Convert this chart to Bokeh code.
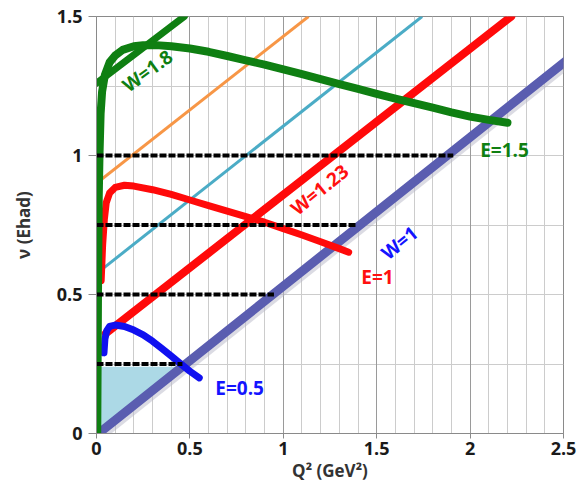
from bokeh.plotting import figure
from bokeh.models import Range1d, FixedTicker, Grid, ColumnDataSource
from bokeh.core.properties import value
from bokeh.embed import file_html
from bokeh.resources import INLINE

# ---- data ----
x_ticks = [0, 0.5, 1, 1.5, 2, 2.5]
x_tick_labels = ["0", "0.5", "1", "1.5", "2", "2.5"]
y_ticks = [0, 0.5, 1, 1.5]
y_tick_labels = ["0", "0.5", "1", "1.5"]

# shaded triangle (accessible region at low energy)
shade_q2 = [0.0, 0.0, 0.44]
shade_nu = [0.0, 0.24, 0.24]

# straight lines of constant W
w1_q2 = [0.01, 2.55]
w1_nu = [0.0, 1.36]
w123_q2 = [0.05, 2.22]
w123_nu = [0.36, 1.5]
w18_q2 = [0.0, 0.47]
w18_nu = [1.26, 1.5]
orange_q2 = [0.0, 1.135]
orange_nu = [0.9, 1.5]
cyan_q2 = [0.0, 1.743]
cyan_nu = [0.575, 1.5]

# curves of constant beam energy
e15_q2 = [0.004, 0.008, 0.012, 0.016, 0.022, 0.03, 0.045, 0.07, 0.1, 0.14, 0.2, 0.25, 0.32, 0.4,
          0.5, 0.6, 0.7, 0.8, 0.9, 1.0, 1.1, 1.2, 1.3, 1.4, 1.5, 1.6, 1.7, 1.8, 1.9, 2.0, 2.1, 2.2]
e15_nu = [0.0, 0.5, 0.85, 1.0, 1.15, 1.23, 1.29, 1.335, 1.36, 1.38, 1.393, 1.397, 1.397, 1.393,
          1.385, 1.373, 1.358, 1.342, 1.327, 1.31, 1.293, 1.275, 1.257, 1.24, 1.222, 1.205,
          1.188, 1.172, 1.155, 1.14, 1.128, 1.118]
e1_q2 = [0.025, 0.033, 0.042, 0.052, 0.07, 0.1, 0.15, 0.2, 0.3, 0.4, 0.5, 0.6, 0.7, 0.8, 0.9,
         1.0, 1.1, 1.2, 1.3, 1.35]
e1_nu = [0.55, 0.68, 0.77, 0.83, 0.865, 0.885, 0.893, 0.89, 0.877, 0.86, 0.84, 0.82, 0.8,
         0.78, 0.76, 0.737, 0.714, 0.69, 0.665, 0.652]
e05_q2 = [0.04, 0.045, 0.055, 0.07, 0.1, 0.15, 0.2, 0.25, 0.3, 0.35, 0.4, 0.45, 0.5, 0.55]
e05_nu = [0.29, 0.34, 0.37, 0.385, 0.39, 0.385, 0.372, 0.355, 0.332, 0.306, 0.279, 0.251,
          0.224, 0.2]

# dashed lines of constant nu
dash_nu = [0.25, 0.5, 0.75, 1.0]
dash_q2_end = [0.46, 0.95, 1.39, 1.91]

# labels
lab_text = ["W=1.8", "W=1.23", "W=1", "E=1.5", "E=1", "E=0.5"]
lab_q2 = [0.273, 1.194, 1.622, 2.184, 1.504, 0.766]
lab_nu = [1.305, 0.877, 0.686, 1.018, 0.564, 0.165]
lab_angle = [0.63, 0.68, 0.68, 0.0, 0.0, 0.0]
lab_color = ["#0f7f12", "#ff1010", "#1414ff", "#0f7f12", "#ff1010", "#1414ff"]

SLATE = "#5a5db0"
RED = "#ff0a0a"
GREEN = "#0f7f12"
BLUE = "#1010f0"

p = figure(width=584, height=499, output_backend="svg", toolbar_location=None,
           x_range=Range1d(0, 2.5), y_range=Range1d(0, 1.5),
           min_border_left=96, min_border_right=21, min_border_top=16, min_border_bottom=66)
p.background_fill_color = "white"
p.border_fill_color = "white"
p.outline_line_color = "#8a8a8a"
p.outline_line_width = 1

# grids
p.xgrid.ticker = FixedTicker(ticks=[i / 10 for i in range(26)])
p.xgrid.grid_line_color = "#cccccc"
p.xgrid.grid_line_width = 1
p.ygrid.ticker = FixedTicker(ticks=[i * 0.25 for i in range(7)])
p.ygrid.grid_line_color = "#cccccc"
p.ygrid.grid_line_width = 1
major_grid = Grid(dimension=0, ticker=FixedTicker(ticks=x_ticks), grid_line_color="#9a9a9a",
                  grid_line_width=1)
p.add_layout(major_grid)

# axes
for ax, ticks, labs in ((p.xaxis[0], x_ticks, x_tick_labels), (p.yaxis[0], y_ticks, y_tick_labels)):
    ax.ticker = FixedTicker(ticks=ticks)
    ax.major_label_overrides = {t: l for t, l in zip(ticks, labs)}
    ax.minor_tick_line_color = None
    ax.axis_line_color = "#8a8a8a"
    ax.major_tick_line_color = "#8a8a8a"
    ax.major_tick_in = 0
    ax.major_label_text_font = "Open Sans"
    ax.major_label_text_font_style = "bold"
    ax.major_label_text_font_size = "18px"
    ax.major_label_text_color = "#1a1a1a"
    ax.axis_label_text_font = "Open Sans"
    ax.axis_label_text_font_style = "bold"
    ax.axis_label_text_font_size = "17px"
    ax.axis_label_text_color = "#333333"

p.xaxis.major_tick_out = 5
p.yaxis.major_tick_out = 8
p.xaxis.major_label_standoff = 3
p.yaxis.major_label_standoff = 6
p.xaxis.axis_label = "Q² (GeV²)"
p.yaxis.axis_label = "ν (Ehad)"
p.xaxis.axis_label_standoff = 1
p.yaxis.axis_label_standoff = 19

# shaded region
p.patch(shade_q2, shade_nu, fill_color="#acd9e6", line_color=None)

# thin lines
p.line(orange_q2, orange_nu, line_color="#f79646", line_width=3)
p.line(cyan_q2, cyan_nu, line_color="#4bacc6", line_width=3)

# constant W lines
p.line([q + 0.012 for q in w1_q2], [n - 0.01 for n in w1_nu], line_color="#b8b8c8",
       line_width=9, line_alpha=0.5)
p.line(w1_q2, w1_nu, line_color=SLATE, line_width=9, line_cap="round")
p.line(w123_q2, w123_nu, line_color=RED, line_width=8, line_cap="round")
p.line(w18_q2, w18_nu, line_color=GREEN, line_width=7, line_cap="round")

# constant E curves
p.line(e1_q2, e1_nu, line_color=RED, line_width=7, line_cap="round", line_join="round")
p.line(e05_q2, e05_nu, line_color=BLUE, line_width=7, line_cap="round", line_join="round")
p.line(e15_q2, e15_nu, line_color=GREEN, line_width=8, line_cap="round", line_join="round")

# dashed lines
for nu, qend in zip(dash_nu, dash_q2_end):
    p.line([0, qend], [nu, nu], line_color="black", line_width=4, line_dash="7 2")

# labels
src = ColumnDataSource(dict(x=lab_q2, y=lab_nu, text=lab_text, angle=lab_angle, color=lab_color))
p.text(x="x", y="y", text="text", angle="angle", text_color="color", source=src,
       text_font=value("Open Sans"), text_font_style="bold", text_font_size="19px",
       text_align="center", text_baseline="middle")

open("out.html", "w").write(file_html(p, INLINE))
